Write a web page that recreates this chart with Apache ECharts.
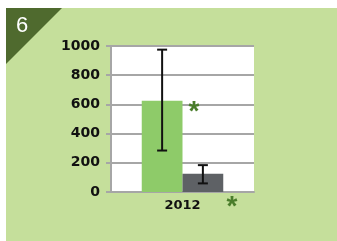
<!DOCTYPE html>
<html>
<head>
<meta charset="utf-8">
<script src="https://cdn.jsdelivr.net/npm/echarts@6/dist/echarts.min.js"></script>
<style>
  html, body { margin: 0; padding: 0; background: #fff; }
  #main { width: 337px; height: 241px; }
</style>
</head>
<body>
<div id="main"></div>
<script>
var categories = ['2012'];
var groupA = [625];     // light green bar
var groupB = [125];     // dark grey bar
var errA = [[284, 975]];
var errB = [[59, 184]];
var yTicks = [0, 200, 400, 600, 800, 1000];

var barGapPct = 0.43;

function errorBar(offsetSign, errs) {
  return {
    type: 'custom',
    z: 10,
    renderItem: function (params, api) {
      var idx = api.value(0);
      var lo = api.coord([idx, api.value(1)]);
      var hi = api.coord([idx, api.value(2)]);
      var band = api.size([1, 0])[0];
      var off = offsetSign * band * (1 - barGapPct) / 4;
      var x = lo[0] + off;
      var cap = 5;
      var st = { stroke: '#111', lineWidth: 2 };
      return {
        type: 'group',
        children: [
          { type: 'line', shape: { x1: x, y1: lo[1], x2: x, y2: hi[1] }, style: st },
          { type: 'line', shape: { x1: x - cap, y1: hi[1], x2: x + cap, y2: hi[1] }, style: st },
          { type: 'line', shape: { x1: x - cap, y1: lo[1], x2: x + cap, y2: lo[1] }, style: st }
        ]
      };
    },
    data: errs.map(function (e, i) { return [i, e[0], e[1]]; })
  };
}

var option = {
  backgroundColor: '#fff',
  animation: false,
  grid: {
    left: 111, right: 83, top: 46, bottom: 49,
    show: true, backgroundColor: '#fff', borderWidth: 0
  },
  graphic: [
    { type: 'rect', z: -10, shape: { x: 6, y: 8, width: 331, height: 233 }, style: { fill: '#c5df9b' } },
    { type: 'polygon', z: -5, shape: { points: [[6, 8], [62, 8], [6, 64]] }, style: { fill: '#4f6a2e' } },
    { type: 'text', z: 5, left: 16, top: 15, style: { text: '6', fill: '#fff', font: '22px "Liberation Sans", Arial, sans-serif' } },
    { type: 'text', z: 20, x: 194, y: 112, style: { text: '*', fill: '#4a7d2b', font: 'bold 28px "Liberation Sans", Arial, sans-serif', textAlign: 'center', textVerticalAlign: 'middle' } },
    { type: 'text', z: 20, x: 232, y: 207, style: { text: '*', fill: '#4a7d2b', font: 'bold 28px "Liberation Sans", Arial, sans-serif', textAlign: 'center', textVerticalAlign: 'middle' } }
  ],
  xAxis: {
    type: 'category',
    data: categories,
    axisLine: { lineStyle: { color: '#a6a6a6', width: 2 } },
    axisTick: { show: false },
    axisLabel: { color: '#111', fontWeight: 'bold', fontSize: 13, margin: 7, fontFamily: 'DejaVu Sans' }
  },
  yAxis: {
    type: 'value',
    min: 0, max: 1000, interval: 200,
    axisLine: { show: true, lineStyle: { color: '#a6a6a6', width: 2 } },
    axisTick: { show: true, length: 5, lineStyle: { color: '#a6a6a6', width: 2 } },
    splitLine: { lineStyle: { color: '#a6a6a6', width: 2 } },
    axisLabel: {
      color: '#111', fontWeight: 'bold', fontSize: 14, margin: 11,
      fontFamily: 'DejaVu Sans',
      formatter: function (v) { return yTicks.indexOf(v) >= 0 ? String(v) : ''; }
    }
  },
  series: [
    { type: 'bar', data: groupA, barGap: '0%', barCategoryGap: (barGapPct * 100) + '%', itemStyle: { color: '#8ecb69' } },
    { type: 'bar', data: groupB, itemStyle: { color: '#5e6165' } },
    errorBar(-1, errA),
    errorBar(1, errB)
  ]
};

var chart = echarts.init(document.getElementById('main'));
chart.setOption(option);
</script>
</body>
</html>
